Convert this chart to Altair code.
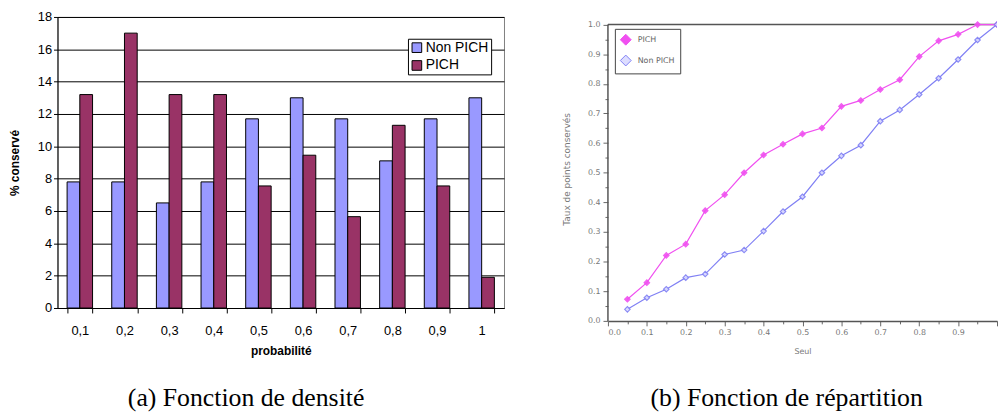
import altair as alt
import pandas as pd

# ---------------- data ----------------
prob_labels = ["0,1", "0,2", "0,3", "0,4", "0,5", "0,6", "0,7", "0,8", "0,9", "1"]
non_pich_pct = [7.8, 7.8, 6.5, 7.8, 11.7, 13.0, 11.7, 9.1, 11.7, 13.0]
pich_pct = [13.2, 17.0, 13.2, 13.2, 7.55, 9.45, 5.65, 11.3, 7.55, 1.9]
series_a = ["Non PICH", "PICH"]

seuil = [0.05, 0.10, 0.15, 0.20, 0.25, 0.30, 0.35, 0.40, 0.45, 0.50,
         0.55, 0.60, 0.65, 0.70, 0.75, 0.80, 0.85, 0.90, 0.95, 1.00]
pich_cum = [0.073, 0.129, 0.221, 0.259, 0.372, 0.426, 0.500, 0.560, 0.596, 0.631,
            0.651, 0.724, 0.744, 0.781, 0.814, 0.892, 0.945, 0.967, 1.000, 1.000]
non_pich_cum = [0.039, 0.078, 0.107, 0.146, 0.158, 0.224, 0.239, 0.303, 0.369, 0.419,
                0.500, 0.557, 0.593, 0.674, 0.712, 0.764, 0.819, 0.882, 0.948, 1.000]
series_b = ["PICH", "Non PICH"]

# frame of panel (b): top edge and left edge, in data units
frame_x = [0.0, 0.0]
frame_x2 = [1.0, 0.0]
frame_y = [1.0, 0.0]
frame_y2 = [1.0, 1.0]

caption_a = "(a) Fonction de densité"
caption_b = "(b) Fonction de répartition"

# ---------------- tables ----------------
rows_a = []
for lab, v1, v2 in zip(prob_labels, non_pich_pct, pich_pct):
    rows_a.append({"prob": lab, "serie": "Non PICH", "val": v1})
    rows_a.append({"prob": lab, "serie": "PICH", "val": v2})
df_a = pd.DataFrame(rows_a)

rows_b = []
for s, p, n in zip(seuil, pich_cum, non_pich_cum):
    rows_b.append({"seuil": s, "courbe": "PICH", "taux": p})
    rows_b.append({"seuil": s, "courbe": "Non PICH", "taux": n})
df_b = pd.DataFrame(rows_b)
df_frame = pd.DataFrame({"seuil": frame_x, "seuil2": frame_x2, "taux": frame_y, "taux2": frame_y2})

SANS = "Liberation Sans"
SERIF = "Liberation Serif"

# ---------------- panel (a) ----------------
bars = alt.Chart(df_a).mark_bar(stroke="black", strokeWidth=1).encode(
    x=alt.X("prob:N", sort=prob_labels,
            scale=alt.Scale(paddingInner=0.43, paddingOuter=0.215),
            axis=alt.Axis(title="probabilité", labelAngle=0, labelFont=SANS, labelFontSize=13,
                          labelColor="black", labelPadding=12, tickBand="extent",
                          tickSize=5, tickColor="black", domainColor="black",
                          titleFont=SANS, titleFontSize=12, titleFontWeight="bold",
                          titleColor="black", titlePadding=8)),
    xOffset=alt.XOffset("serie:N", sort=series_a, scale=alt.Scale(paddingInner=0, paddingOuter=0)),
    y=alt.Y("val:Q", scale=alt.Scale(domain=[0, 18]),
            axis=alt.Axis(title="% conservé", values=list(range(0, 19, 2)), grid=True,
                          gridColor="black", gridWidth=1, gridOpacity=1,
                          labelFont=SANS, labelFontSize=13, labelColor="black",
                          tickSize=4, tickColor="black", domainColor="black",
                          titleFont=SANS, titleFontSize=12, titleFontWeight="bold",
                          titleColor="black", titlePadding=16)),
    color=alt.Color("serie:N", sort=series_a,
                    scale=alt.Scale(domain=series_a, range=["#9999FF", "#993366"]),
                    legend=alt.Legend(title=None, orient="none", legendX=354, legendY=22,
                                      fillColor="white", strokeColor="black", padding=2,
                                      symbolType="square", symbolSize=95,
                                      symbolStrokeColor="black", symbolStrokeWidth=1,
                                      labelFont=SANS, labelFontSize=14, labelColor="black",
                                      rowPadding=4, labelOffset=2)),
)

panel_a = bars.properties(
    width=451, height=294,
    view=alt.ViewBackground(stroke="#808080", strokeWidth=1),
    title=alt.TitleParams(caption_a, orient="bottom", font=SERIF, fontSize=26,
                          fontWeight="normal", color="black", offset=29, dx=-35),
)

# ---------------- panel (b) ----------------
minor_test = "abs(round(datum.value*10) - datum.value*10) > 0.01"
tick_vals = [i / 20 for i in range(0, 21)]

scale_xb = alt.Scale(domain=[0, 1], nice=False)
scale_yb = alt.Scale(domain=[0, 1.0257], nice=False)
axis_xb = alt.Axis(title="Seul", values=tick_vals,
                   labelExpr="(" + minor_test + " || datum.value > 0.99) ? '' : format(datum.value, '.1f')",
                   tickSize={"condition": {"test": minor_test, "value": 3}, "value": 5},
                   labelFont="DejaVu Sans", labelFontSize=8, labelColor="#777",
                   tickColor="#666", domainColor="#555", domainWidth=1.5,
                   labelPadding=3, grid=False,
                   titleFont="DejaVu Sans", titleFontSize=8, titleColor="#777",
                   titleFontWeight="normal", titlePadding=11)
axis_yb = alt.Axis(title="Taux de points conservés", values=tick_vals,
                   labelExpr="(" + minor_test + ") ? '' : format(datum.value, '.1f')",
                   tickSize={"condition": {"test": minor_test, "value": 3}, "value": 5},
                   labelFont="DejaVu Sans", labelFontSize=8, labelColor="#777",
                   tickColor="#666", domain=False,
                   labelPadding=3, grid=False,
                   titleFont="DejaVu Sans", titleFontSize=9, titleColor="#777",
                   titleFontWeight="normal", titlePadding=16)

xb = alt.X("seuil:Q", scale=scale_xb, axis=axis_xb)
yb = alt.Y("taux:Q", scale=scale_yb, axis=axis_yb)

col_b = alt.Scale(domain=series_b, range=["#f050f0", "#8080f4"])

frame = alt.Chart(df_frame).mark_rule(color="#555", strokeWidth=1.5).encode(
    x=xb, x2="seuil2:Q", y=yb, y2="taux2:Q",
)
lines = alt.Chart(df_b).mark_line(strokeWidth=1.2, clip=True).encode(
    x=xb, y=yb, color=alt.Color("courbe:N", scale=col_b, legend=None),
    detail="courbe:N",
)
pts = alt.Chart(df_b).mark_point(size=30, strokeWidth=1.2, opacity=0.9, clip=True).encode(
    x=xb, y=yb,
    color=alt.Color("courbe:N", scale=col_b, legend=None),
    shape=alt.Shape("courbe:N", scale=alt.Scale(domain=series_b, range=["diamond", "diamond"]), legend=None),
    fill=alt.Fill("courbe:N", scale=alt.Scale(domain=series_b, range=["#f050f0", "#ddddff"]), legend=None),
)
legend_layer = alt.Chart(df_b).mark_point(opacity=0, filled=False, clip=True).encode(
    x=xb, y=yb,
    color=alt.Color("courbe:N", scale=col_b,
                    legend=alt.Legend(title=None, orient="none", legendX=7, legendY=12,
                                      fillColor="white", strokeColor="#444",
                                      padding=5,
                                      symbolType="M-2,0L2,0M0,-0.45L0.45,0L0,0.45L-0.45,0Z",
                                      symbolSize=120, symbolStrokeWidth=1, symbolOpacity=1,
                                      labelFont="DejaVu Sans", labelFontSize=8, labelColor="#666",
                                      rowPadding=5, labelOffset=6)),
)

panel_b = alt.layer(legend_layer, frame, lines, pts).properties(
    width=393, height=307,
    view=alt.ViewBackground(stroke=None),
    title=alt.TitleParams(caption_b, orient="bottom", font=SERIF, fontSize=26,
                          fontWeight="normal", color="black", offset=30, dx=-16),
)

chart = alt.hconcat(panel_a, panel_b, spacing=58).resolve_scale(
    color="independent", shape="independent", fill="independent"
).resolve_legend(color="independent").properties(
    padding={"left": 0, "top": 0, "right": 0, "bottom": 0}
).configure_view(stroke=None)

chart.save("out.html", embed_options={"renderer": "svg", "actions": False})
